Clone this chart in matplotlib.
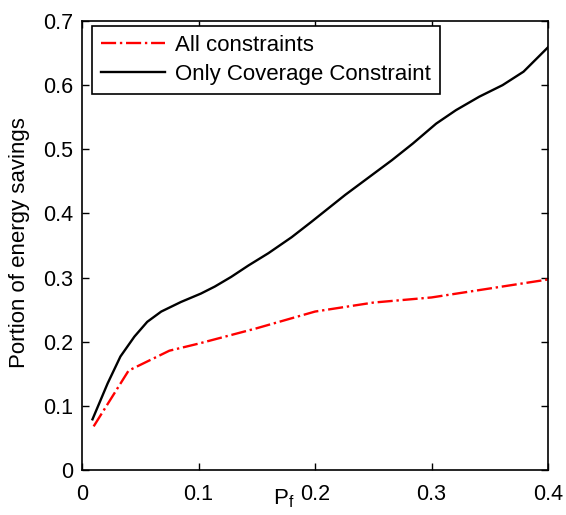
import numpy as np
import matplotlib.pyplot as plt

plt.rcParams['font.family'] = ['Liberation Sans', 'DejaVu Sans']

# all constraints (red dash-dot)
pf_all = [0.01, 0.04, 0.075, 0.1, 0.15, 0.2, 0.25, 0.3, 0.35, 0.4]
sav_all = [0.068, 0.155, 0.186, 0.197, 0.221, 0.247, 0.261, 0.269, 0.283, 0.297]

# only coverage constraint (black, smooth)
pf_cov = [0.009, 0.022, 0.033, 0.045, 0.056, 0.068, 0.085, 0.102, 0.114, 0.128, 0.143,
          0.16, 0.18, 0.197, 0.226, 0.266, 0.284, 0.304, 0.321, 0.341, 0.361, 0.379, 0.4]
sav_cov = [0.079, 0.135, 0.177, 0.208, 0.231, 0.247, 0.262, 0.275, 0.286, 0.301, 0.319,
           0.338, 0.363, 0.387, 0.429, 0.483, 0.509, 0.540, 0.561, 0.582, 0.600, 0.621, 0.659]

fig = plt.figure(figsize=(5.66, 5.15), dpi=100)
ax = fig.add_axes([82/566, 1-470/515, 466/566, 449/515])

ax.plot(pf_all, sav_all, color='red', linestyle='-.', linewidth=1.7, label='All constraints')
ax.plot(pf_cov, sav_cov, color='black', linewidth=1.7, label='Only Coverage Constraint')

ax.set_xlim(0, 0.4)
ax.set_ylim(0, 0.7)
ax.set_xticks([0, 0.1, 0.2, 0.3, 0.4])
ax.set_xticklabels(['0', '0.1', '0.2', '0.3', '0.4'])
ax.set_yticks(np.arange(0, 0.71, 0.1))
ax.set_yticklabels(['0', '0.1', '0.2', '0.3', '0.4', '0.5', '0.6', '0.7'])
ax.tick_params(direction='in', labelsize=15.5, top=True, right=True, length=5, width=1)
ax.tick_params(axis='x', pad=10)
ax.tick_params(axis='y', pad=6.5)
for s in ax.spines.values():
    s.set_linewidth(1.2)

ax.set_ylabel('Portion of energy savings', fontsize=16, va='center')
ax.yaxis.set_label_coords(-(82-20)/466, (470-243)/449)
ax.set_xlabel('P$_\\mathregular{f}$', fontsize=16, va='center')
ax.xaxis.set_label_coords((284-82)/466, -(499-470)/449)

leg = ax.legend(loc='upper left', bbox_to_anchor=(10/466, 1-5/449), borderaxespad=0,
                fontsize=16, fancybox=False, framealpha=1, edgecolor='black',
                handlelength=2.9, handletextpad=0.45, labelspacing=0.35)
leg.get_frame().set_linewidth(1.2)

fig.savefig('out.png', dpi=100)
